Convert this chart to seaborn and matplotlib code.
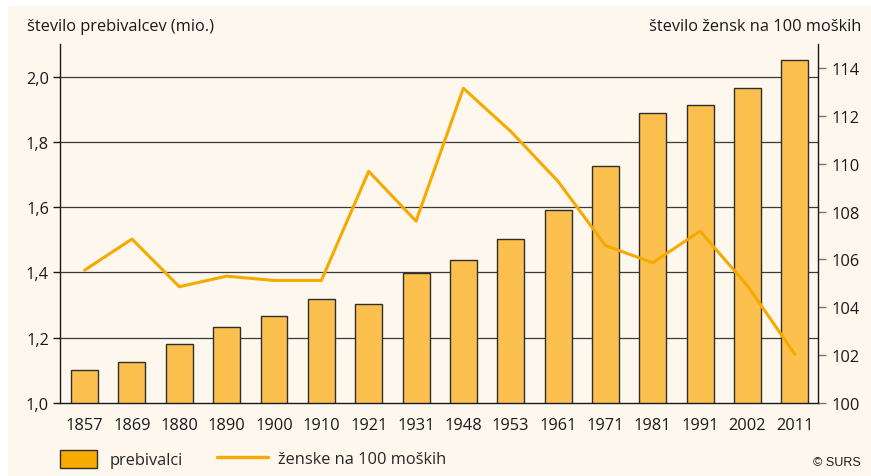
import matplotlib
matplotlib.use("Agg")
import matplotlib.pyplot as plt
import seaborn as sns
import pandas as pd
from matplotlib.patches import Patch, Rectangle
from matplotlib.lines import Line2D
from matplotlib.ticker import FuncFormatter

leta = ["1857", "1869", "1880", "1890", "1900", "1910", "1921", "1931",
        "1948", "1953", "1961", "1971", "1981", "1991", "2002", "2011"]
prebivalci = [1.101, 1.126, 1.180, 1.232, 1.266, 1.320, 1.303, 1.398,
              1.439, 1.502, 1.591, 1.727, 1.890, 1.912, 1.964, 2.050]
zenske = [105.55, 106.85, 104.86, 105.3, 105.12, 105.12, 109.68, 107.6,
          113.15, 111.35, 109.26, 106.58, 105.86, 107.18, 104.9, 102.04]

ozadje = "#fdf7ee"
barva_stolpci = "#fcc04f"
barva_crta = "#f6aa00"
fs = 11.8

sns.set_style("white")
plt.rcParams['font.family'] = ['Open Sans', 'DejaVu Sans']
plt.rcParams['font.size'] = fs

db = pd.DataFrame({"leto": leta, "prebivalci": prebivalci, "zenske": zenske})

fig = plt.figure(figsize=(8.71, 4.77), dpi=100)
fig.patch.set_facecolor("white")
fig.add_artist(Rectangle((8 / 871, 0), 1, 470 / 477, transform=fig.transFigure,
                         facecolor=ozadje, edgecolor="none", zorder=-10))

ax = fig.add_axes([60 / 871, 1 - 404 / 477, (818 - 60) / 871, (404 - 45) / 477])
ax.set_facecolor("none")

for v in [1.2, 1.4, 1.6, 1.8, 2.0]:
    ax.axhline(v, color="#3a3a3a", lw=0.9, zorder=1)

sns.barplot(data=db, x="leto", y="prebivalci", ax=ax, color=barva_stolpci,
            saturation=1, width=0.57, edgecolor="#2e2e2e", linewidth=1, zorder=2)
ax.set_ylim(1.0, 2.1)
ax.set_xlim(-0.52, 15.49)
ax.set_yticks([1.0, 1.2, 1.4, 1.6, 1.8, 2.0])
ax.yaxis.set_major_formatter(FuncFormatter(lambda v, p: f"{v:.1f}".replace(".", ",")))
ax.set_xlabel("")
ax.set_ylabel("")
ax.tick_params(axis="x", length=0, pad=10, labelsize=fs, colors="#1a1a1a")
ax.tick_params(axis="y", length=5, width=1, pad=3, labelsize=fs, colors="#1a1a1a", left=True)
for s in ["top", "right"]:
    ax.spines[s].set_visible(False)
for s in ["left", "bottom"]:
    ax.spines[s].set_color("#1a1a1a")
    ax.spines[s].set_linewidth(1)

ax2 = ax.twinx()
sns.lineplot(data=db, x="leto", y="zenske", ax=ax2, color=barva_crta, lw=2.2, sort=False)
ax2.set_ylim(100, 115)
ax2.set_yticks([100, 102, 104, 106, 108, 110, 112, 114])
ax2.set_ylabel("")
ax2.set_xlabel("")
ax2.tick_params(axis="y", length=6, width=1, pad=4, labelsize=fs, colors="#1a1a1a", right=True)
ax2.tick_params(axis="y", which="major", color="#777777")
for s in ["top", "left", "bottom"]:
    ax2.spines[s].set_visible(False)
ax2.spines["right"].set_color("#1a1a1a")
ax2.spines["right"].set_linewidth(1)

fig.text(27 / 871, 1 - 27 / 477, "število prebivalcev (mio.)", ha="left", va="center",
         fontsize=fs, color="#1a1a1a")
fig.text(861 / 871, 1 - 27 / 477, "število žensk na 100 moških", ha="right", va="center",
         fontsize=fs, color="#1a1a1a")
fig.text(861 / 871, 1 - 463 / 477, "© SURS", ha="right", va="center",
         fontsize=9, color="#1a1a1a", family=["Liberation Sans", "DejaVu Sans"])

fig.legend(handles=[Patch(facecolor="#f7ab00", edgecolor="#2e2e2e", linewidth=1)],
           labels=["prebivalci"], loc="center left", bbox_to_anchor=(60 / 871, 1 - 460 / 477),
           frameon=False, borderpad=0, borderaxespad=0, handlelength=2.25,
           handleheight=1.3, handletextpad=0.8, fontsize=fs)
fig.legend(handles=[Line2D([], [], color=barva_crta, lw=2.4)],
           labels=["ženske na 100 moških"], loc="center left",
           bbox_to_anchor=(217 / 871, 1 - 460 / 477),
           frameon=False, borderpad=0, borderaxespad=0, handlelength=3.1,
           handletextpad=0.6, fontsize=fs)

fig.savefig("out.png", dpi=100, facecolor=fig.get_facecolor())
